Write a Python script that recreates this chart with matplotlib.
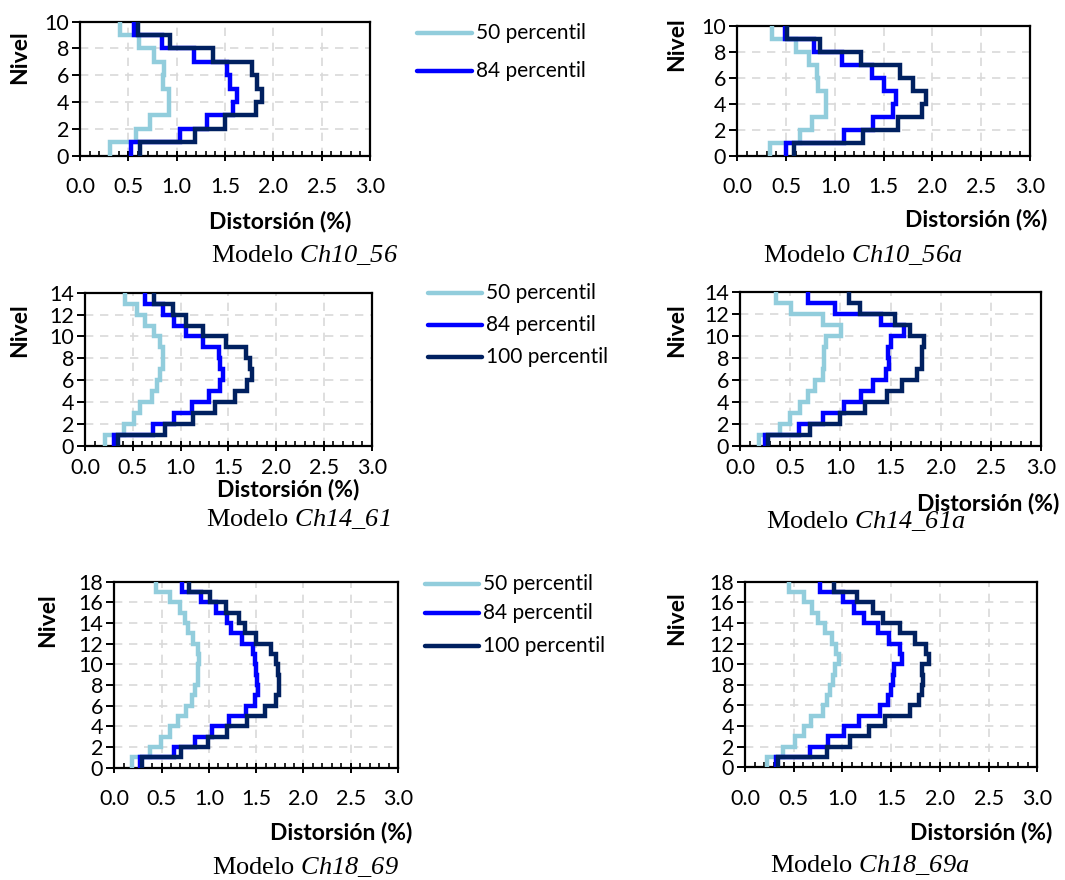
import numpy as np
import matplotlib
matplotlib.use("Agg")
import matplotlib.pyplot as plt
from matplotlib.lines import Line2D
from matplotlib.ticker import MultipleLocator

plt.rcParams['font.family'] = ['Lato', 'DejaVu Sans']
# captions: the model name is italic (digits too), so mathtext rm -> italic serif
plt.rcParams['mathtext.fontset'] = 'custom'
plt.rcParams['mathtext.rm'] = 'Liberation Serif:italic'
plt.rcParams['mathtext.it'] = 'Liberation Serif:italic'

W, H = 1065, 880

# storey drifts (%), storey 1 first
ch10_56_p50 = [0.31, 0.58, 0.72, 0.92, 0.92, 0.86, 0.87, 0.77, 0.61, 0.41]
ch10_56_p84 = [0.53, 1.03, 1.31, 1.58, 1.62, 1.55, 1.52, 1.18, 0.85, 0.56]
ch10_56_p100 = [0.62, 1.19, 1.50, 1.82, 1.88, 1.83, 1.78, 1.38, 0.93, 0.60]

ch10_56a_p50 = [0.34, 0.64, 0.77, 0.91, 0.91, 0.83, 0.82, 0.74, 0.60, 0.36]
ch10_56a_p84 = [0.50, 1.09, 1.39, 1.60, 1.63, 1.50, 1.38, 1.07, 0.79, 0.49]
ch10_56a_p100 = [0.58, 1.29, 1.65, 1.89, 1.93, 1.80, 1.67, 1.27, 0.85, 0.51]

ch14_61_p50 = [0.21, 0.41, 0.51, 0.58, 0.70, 0.75, 0.78, 0.82, 0.82, 0.78, 0.72, 0.63, 0.54, 0.42]
ch14_61_p84 = [0.30, 0.71, 0.93, 1.12, 1.30, 1.41, 1.44, 1.41, 1.40, 1.23, 1.06, 0.93, 0.82, 0.63]
ch14_61_p100 = [0.35, 0.84, 1.13, 1.36, 1.57, 1.70, 1.75, 1.73, 1.68, 1.48, 1.23, 1.06, 0.92, 0.72]

ch14_61a_p50 = [0.19, 0.40, 0.50, 0.60, 0.68, 0.75, 0.83, 0.84, 0.84, 0.86, 1.01, 0.83, 0.51, 0.36]
ch14_61a_p84 = [0.25, 0.59, 0.83, 1.04, 1.21, 1.33, 1.46, 1.49, 1.48, 1.50, 1.63, 1.41, 0.95, 0.68]
ch14_61a_p100 = [0.28, 0.70, 1.00, 1.25, 1.47, 1.61, 1.76, 1.81, 1.81, 1.83, 1.69, 1.54, 1.20, 1.09]

ch18_69_p50 = [0.19, 0.38, 0.49, 0.59, 0.67, 0.76, 0.82, 0.85, 0.88, 0.89, 0.90, 0.88,
               0.83, 0.78, 0.75, 0.69, 0.59, 0.44]
ch18_69_p84 = [0.27, 0.63, 0.85, 1.03, 1.21, 1.39, 1.49, 1.52, 1.51, 1.50, 1.49, 1.47,
               1.35, 1.23, 1.19, 1.08, 0.92, 0.72]
ch18_69_p100 = [0.29, 0.71, 0.99, 1.19, 1.40, 1.59, 1.71, 1.74, 1.74, 1.73, 1.71, 1.66,
                1.50, 1.38, 1.32, 1.18, 1.01, 0.79]

ch18_69a_p50 = [0.23, 0.39, 0.51, 0.61, 0.68, 0.80, 0.84, 0.87, 0.90, 0.92, 0.96, 0.93,
                0.89, 0.82, 0.75, 0.69, 0.61, 0.45]
ch18_69a_p84 = [0.32, 0.67, 0.85, 1.02, 1.17, 1.39, 1.47, 1.50, 1.52, 1.53, 1.61, 1.59,
                1.48, 1.36, 1.22, 1.12, 1.01, 0.77]
ch18_69a_p100 = [0.34, 0.84, 1.08, 1.27, 1.44, 1.69, 1.79, 1.82, 1.83, 1.82, 1.89, 1.86,
                 1.74, 1.59, 1.42, 1.31, 1.15, 0.91]

labels = ["50 percentil", "84 percentil", "100 percentil"]
colors = ["#92CDDC", "#0000FF", "#002060"]


def px(x, y):
    return x / W, 1 - y / H


def make_axes(fig, left, right, top, bottom):
    l, b = px(left, bottom)
    return fig.add_axes([l, b, (right - left) / W, (bottom - top) / H])


def draw_panel(ax, series, nlev, xpad):
    for vals, c in zip(series, colors):
        ax.stairs(vals, np.arange(nlev + 1), orientation='horizontal',
                  baseline=None, color=c, lw=3.2, zorder=3)
    ax.set_xlim(0, 3)
    ax.set_ylim(0, nlev)
    ax.xaxis.set_major_locator(MultipleLocator(0.5))
    ax.xaxis.set_minor_locator(MultipleLocator(0.1))
    ax.yaxis.set_major_locator(MultipleLocator(2))
    ax.xaxis.set_major_formatter(lambda v, p: f"{v:.1f}")
    ax.grid(True, color="#D9D9D9", ls=(0, (5, 4)), lw=1.2, zorder=0)
    for s in ax.spines.values():
        s.set_linewidth(1.6)
        s.set_color("black")
    ax.tick_params(axis='x', which='major', direction='inout', length=7, width=1.4,
                   labelsize=15.5, pad=xpad)
    ax.tick_params(axis='x', which='minor', direction='in', length=3.5, width=1.2)
    ax.tick_params(axis='y', which='major', direction='out', length=6, width=1.4,
                   labelsize=15.5, pad=2)


def legend(fig, x0, x1, xt, ys, n):
    for i in range(n):
        y = ys[i]
        fig.add_artist(Line2D([x0 / W, x1 / W], [1 - y / H, 1 - y / H],
                              color=colors[i], lw=3.2, solid_capstyle='round'))
        fig.text(xt / W, 1 - y / H, labels[i], fontsize=15, va='center', ha='left')


fig = plt.figure(figsize=(W / 100, H / 100), dpi=100)

panels = [
    # (series, nlev, axes box, x tick pad, nivel pos, distorsion pos, caption pos, name)
    ((ch10_56_p50, ch10_56_p84, ch10_56_p100), 10, (80, 370, 21.7, 155.7), 12,
     (20, 57), (280, 221), (305, 255), "Ch10\\_56"),
    ((ch10_56a_p50, ch10_56a_p84, ch10_56a_p100), 10, (737.3, 1030, 26, 155.7), 12,
     (677, 44), (976, 220), (863, 255), "Ch10\\_56a"),
    ((ch14_61_p50, ch14_61_p84, ch14_61_p100), 14, (85, 371.7, 292.7, 446), 5,
     (20, 330), (288, 489), (298, 519), "Ch14\\_61"),
    ((ch14_61a_p50, ch14_61a_p84, ch14_61a_p100), 14, (740, 1041, 292.3, 445.7), 5,
     (677, 330), (988, 503), (866, 521), "Ch14\\_61a"),
    ((ch18_69_p50, ch18_69_p84, ch18_69_p100), 18, (114.3, 398, 581.7, 767.7), 12,
     (48, 620), (341, 832), (305, 867), "Ch18\\_69"),
    ((ch18_69a_p50, ch18_69a_p84, ch18_69a_p100), 18, (745, 1037.3, 581.7, 767.3), 12,
     (677, 618), (981, 832), (870, 865), "Ch18\\_69a"),
]

for series, nlev, box, xpad, niv, dist, cap, name in panels:
    ax = make_axes(fig, *box)
    draw_panel(ax, series, nlev, xpad)
    fig.text(*px(*niv), "Nivel", rotation=90, fontsize=16.5, fontweight='bold',
             ha='center', va='center')
    fig.text(*px(*dist), "Distorsión (%)", fontsize=16.5, fontweight='bold',
             ha='center', va='center')
    fig.text(*px(*cap), "Modelo $\\mathrm{" + name + "}$", fontsize=19,
             family='Liberation Serif', ha='center', va='center')

legend(fig, 417, 472, 476, [33, 71], 2)
legend(fig, 428, 482, 486, [293, 325, 357], 3)
legend(fig, 425, 479, 483, [584, 613, 646], 3)

fig.savefig("out.png", dpi=100)
